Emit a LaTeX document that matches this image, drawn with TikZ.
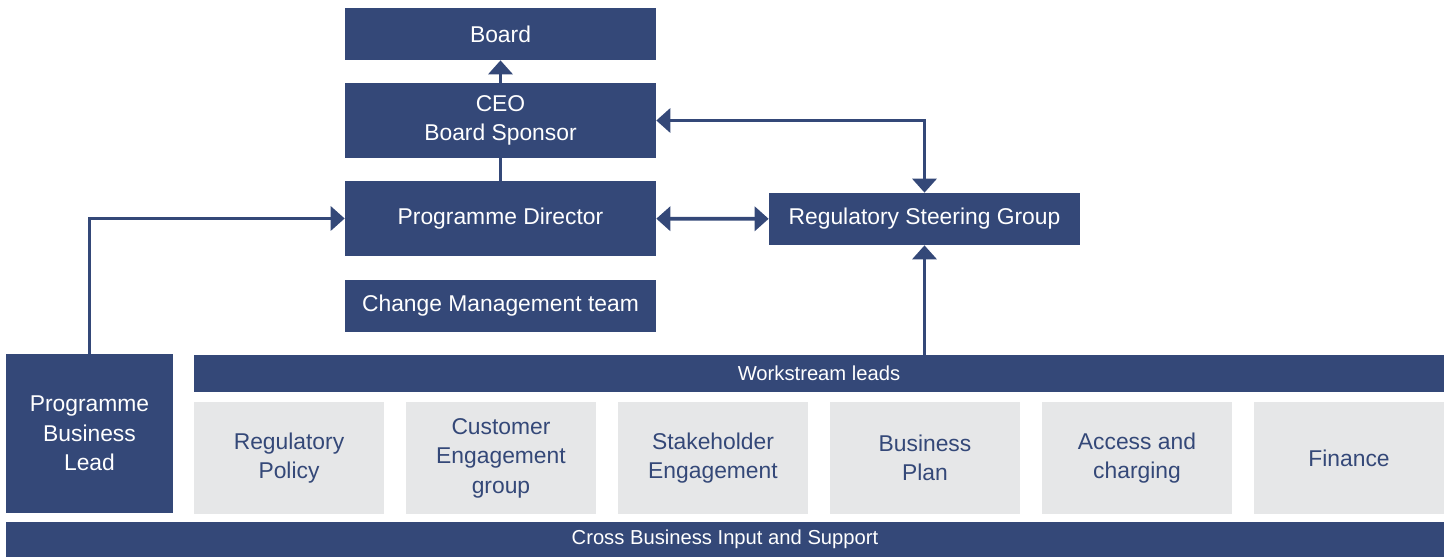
\documentclass[tikz,border=0pt]{standalone}
\usepackage{fontspec}
\setmainfont{Liberation Sans}
\usepackage{xcolor}
\usetikzlibrary{arrows.meta, positioning, calc}

\definecolor{navy}{RGB}{52,72,120}
\definecolor{panel}{RGB}{230,231,232}

\begin{document}
\begin{tikzpicture}[x=0.02cm, y=-0.02cm, >={Triangle[width=0.48cm,length=0.28cm]}]
    % Styles
    \tikzstyle{box} = [rectangle, fill=navy, text=white, align=center, inner sep=0pt, font=\fontsize{13}{16.8}\selectfont]
    \tikzstyle{wide} = [box, minimum width=6.22cm]
    \tikzstyle{stream} = [rectangle, fill=panel, text=navy, align=center, inner sep=0pt, minimum width=3.8cm, minimum height=2.24cm, font=\fontsize{13}{16.8}\selectfont]
    \tikzstyle{bar} = [box, font=\fontsize{11.5}{13}\selectfont, minimum height=0.73cm]
    \tikzstyle{line} = [draw=navy, line width=2.2pt]

    \useasboundingbox (0,0) rectangle (1451,557);

    % Governance
    \node [wide, minimum height=1.04cm] (board) at (500.5,34) {Board};
    \node [wide, minimum height=1.5cm] (ceo) at (500.5,120.5) {CEO\\Board Sponsor};
    \node [wide, minimum height=1.5cm] (pd) at (500.5,218.5) {Programme Director};
    \node [wide, minimum height=1.04cm] (cmt) at (500.5,306) {Change Management team};
    \node [wide, minimum height=1.04cm] (rsg) at (924.5,219) {Regulatory Steering Group};
    \node [box, minimum width=3.34cm, minimum height=3.18cm] (pbl) at (89.5,433.5) {Programme\\Business\\Lead};

    % Workstreams
    \node [bar, minimum width=25cm] (leads) at (819,373.5) {Workstream leads};
    \node [stream] (policy) at (289,458) {Regulatory\\Policy};
    \node [stream] (customer) at (501,458) {Customer\\Engagement\\group};
    \node [stream] (stake) at (713,458) {Stakeholder\\Engagement};
    \node [stream] (plan) at (925,458) {Business\\Plan};
    \node [stream] (access) at (1137,458) {Access and\\charging};
    \node [stream] (finance) at (1349,458) {Finance};
    \node [bar, minimum width=28.76cm, minimum height=0.72cm] (support) at (725,539.5) {Cross Business Input and Support};

    % Paths
    \draw [line, ->] (ceo) -- (board);
    \draw [line] (ceo) -- (pd);
    \draw [line, ->] (pbl.north) |- (pd.west);
    \draw [line, <->] (pd) -- (rsg);
    \draw [line, <->] (ceo.east) -| (rsg.north);
    \draw [line, ->] (rsg.south |- leads.north) -- (rsg.south);
\end{tikzpicture}
\end{document}
